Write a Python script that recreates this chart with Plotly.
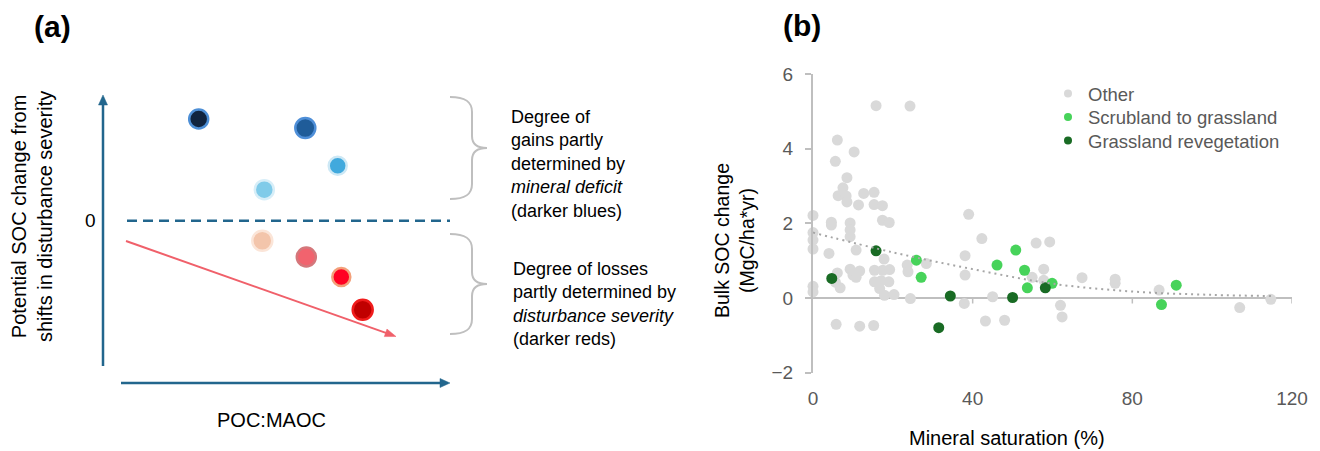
import plotly.graph_objects as go

FONT = "Arial, 'Liberation Sans', sans-serif"

# ---------------- Panel (b) data ----------------
other_x = [15.8, 24.3, 6.1, 10.3, 5.6, 8.5, 7.5, 6.3, 8.3, 8.5, 12.7, 15.3, 11.4, 15.3, 17.4,
           0.0, 4.6, 4.6, 9.3, 9.3, 9.3, 17.4, 19.1, 39.0, 0.0, 0.0, 0.0, 4.0, 10.8, 17.8,
           6.1, 5.6, 6.8, 0.0, 0.0, 9.3, 11.7, 10.0, 10.8, 15.4, 17.5, 19.2, 15.4, 17.1, 19.0,
           16.7, 17.9, 20.3, 24.4, 23.6, 23.8, 28.4, 5.8, 11.7, 15.2, 42.3, 38.1, 38.1,
           55.9, 59.3, 57.8, 54.9, 57.8, 45.0, 37.9, 43.2, 48.0, 62.0, 62.4, 67.4, 75.7, 75.7,
           86.7, 106.9, 114.7]
other_y = [5.15, 5.14, 4.23, 3.91, 3.66, 3.22, 2.95, 2.74, 2.73, 2.57, 2.80, 2.83, 2.49, 2.50, 2.47,
           2.21, 2.03, 1.95, 2.01, 1.82, 1.64, 2.08, 2.02, 2.24, 1.75, 1.55, 1.31, 1.19, 1.28, 1.04,
           0.67, 0.42, 0.27, 0.31, 0.16, 0.77, 0.72, 0.61, 0.55, 0.74, 0.74, 0.76, 0.43, 0.46, 0.43,
           0.25, 0.07, 0.09, -0.02, 0.88, 0.70, 0.92, -0.71, -0.76, -0.74, 1.59, 1.13, 0.61,
           1.47, 1.50, 0.77, 0.55, 0.47, 0.03, -0.15, -0.62, -0.60, -0.20, -0.51, 0.54, 0.50, 0.39,
           0.21, -0.26, -0.04]
scrub_x = [25.9, 27.1, 50.8, 46.1, 53.0, 59.9, 53.7, 91.0, 87.3]
scrub_y = [1.01, 0.55, 1.28, 0.88, 0.74, 0.39, 0.27, 0.34, -0.18]
reveg_x = [15.8, 4.7, 34.4, 50.0, 58.2, 31.5]
reveg_y = [1.26, 0.52, 0.05, 0.01, 0.27, -0.80]
trend_x = [0, 20, 40, 60, 80, 100, 115]
trend_y = [1.75, 1.22, 0.77, 0.38, 0.17, 0.08, 0.05]
x_ticks = [0, 40, 80, 120]
y_ticks = [-2, 0, 2, 4, 6]
series_names = ["Other", "Scrubland to grassland", "Grassland revegetation"]
series_colors = ["#d9d9d9", "#47d35a", "#196b24"]

# ---------------- Panel (a) schematic (pixel-space units) ----------------
a_x = [198.7, 305.3, 337.7, 264.3, 262.3, 306.3, 341.3, 362.7]
a_y = [119.0, 128.0, 165.7, 189.7, 240.7, 257.0, 277.0, 309.7]
a_size = [19, 20, 18, 19, 20, 19, 18, 20]
a_fill = ["#10243f", "#1f5c99", "#41a9dd", "#80cbe9", "#f3c5ab", "#f1636e", "#ff0022", "#c00000"]
a_ring = ["#4d8fd6", "#4f8fd8", "#cde8f5", "#d7eef8", "#fbe5d8", "#d4777b", "#f3a07a", "#f01c1c"]

W, H = 1320, 451
TEAL = "#22668d"
RED = "#f0606a"
GRAY_AX = "#bfbfbf"

fig = go.Figure()

legend_ids = ["legend", "legend2", "legend3"]
legend_rows = [94, 117.5, 141]  # vertical centres of the legend rows (px)

# legend entries (small symbols as in the reference), one legend per row
for name, col, lid in zip(series_names, series_colors, legend_ids):
    fig.add_trace(go.Scatter(x=[None], y=[None], mode="markers", name=name, legend=lid,
                             marker=dict(size=8, color=col), xaxis="x", yaxis="y"))

for xs, ys, name, col in [(other_x, other_y, series_names[0], series_colors[0]),
                          (scrub_x, scrub_y, series_names[1], series_colors[1]),
                          (reveg_x, reveg_y, series_names[2], series_colors[2])]:
    fig.add_trace(go.Scatter(x=xs, y=ys, mode="markers", name=name, showlegend=False,
                             marker=dict(size=11, color=col, opacity=1), cliponaxis=False,
                             xaxis="x", yaxis="y"))

fig.add_trace(go.Scatter(x=trend_x, y=trend_y, mode="lines", showlegend=False,
                         line=dict(color="#a6a6a6", width=2, dash="2px,4px", shape="spline"),
                         xaxis="x", yaxis="y"))

# panel (a) circles
fig.add_trace(go.Scatter(x=a_x, y=a_y, mode="markers", showlegend=False,
                         marker=dict(size=a_size, color=a_fill, opacity=1,
                                     line=dict(color=a_ring, width=2.5)),
                         cliponaxis=False, xaxis="x2", yaxis="y2"))

shapes = []
# x tick marks on the zero line
for t in x_ticks[1:]:
    shapes.append(dict(type="line", xref="x", yref="y", x0=t, x1=t, y0=0, y1=-0.15,
                       line=dict(color=GRAY_AX, width=1.5), layer="below"))


def arrow(x0, y0, x1, y1, color, width, head_len, head_half):
    dx, dy = x1 - x0, y1 - y0
    L = (dx * dx + dy * dy) ** 0.5
    ux, uy = dx / L, dy / L
    bx, by = x1 - ux * head_len, y1 - uy * head_len
    nx, ny = -uy * head_half, ux * head_half
    out = [dict(type="line", xref="x2", yref="y2", x0=x0, y0=y0,
                x1=bx + ux * 1, y1=by + uy * 1, line=dict(color=color, width=width)),
           dict(type="path", xref="x2", yref="y2",
                path=f"M {x1},{y1} L {bx + nx},{by + ny} L {bx - nx},{by - ny} Z",
                fillcolor=color, line=dict(color=color, width=0.5))]
    return out


shapes += arrow(103, 366, 103, 95, TEAL, 2.5, 10, 4.5)
shapes += arrow(121, 383, 450, 383, TEAL, 2.5, 10, 4.5)
shapes += arrow(126, 241, 396, 336.5, RED, 2, 11, 4)
shapes.append(dict(type="line", xref="x2", yref="y2", x0=127, x1=450, y0=220.7, y1=220.7,
                   line=dict(color=TEAL, width=2.5, dash="10px,6px")))


def brace(top, bottom, xl=450, xs=472, xt=487):
    mid = (top + bottom) / 2
    return (f"M {xl},{top} C {xl+16},{top} {xs},{top+5} {xs},{top+15} "
            f"L {xs},{mid-12} C {xs},{mid-3} {xs+6},{mid} {xt},{mid} "
            f"C {xs+6},{mid} {xs},{mid+3} {xs},{mid+12} "
            f"L {xs},{bottom-15} C {xs},{bottom-5} {xl+16},{bottom} {xl},{bottom}")


for top, bottom in [(97, 199), (234, 334)]:
    shapes.append(dict(type="path", xref="x2", yref="y2", path=brace(top, bottom),
                       line=dict(color=GRAY_AX, width=2)))

ann = []


def txt(x, y, text, size, color="#000000", **kw):
    d = dict(xref="x2", yref="y2", x=x, y=y, text=text, showarrow=False,
             font=dict(family=FONT, size=size, color=color))
    d.update(kw)
    ann.append(d)


txt(52, 26, "<b>(a)</b>", 30)
txt(802, 25, "<b>(b)</b>", 30)
txt(32, 217, "Potential SOC change from<br>shifts in disturbance severity", 20, textangle=-90)
txt(90, 220, "0", 19)
txt(271, 420, "POC:MAOC", 20)
txt(509, 164, "Degree of<br>gains partly<br>determined by<br><i>mineral deficit</i><br>(darker blues)",
    18, xanchor="left", align="left")
txt(511, 304, "Degree of losses<br>partly determined by<br><i>disturbance severity</i><br>(darker reds)",
    18, xanchor="left", align="left")
txt(734, 241, "Bulk SOC change<br>(MgC/ha*yr)", 19.5, textangle=-90)
txt(1007, 438, "Mineral saturation (%)", 20)

legend_layout = {}
for lid, yc in zip(legend_ids, legend_rows):
    legend_layout[lid] = dict(x=1048 / W, y=1 - yc / H, xanchor="left", yanchor="middle",
                              font=dict(family=FONT, size=18.5, color="#595959"),
                              bgcolor="rgba(0,0,0,0)", itemsizing="trace")

fig.update_layout(
    width=W, height=H,
    margin=dict(l=0, r=0, t=0, b=0, autoexpand=False),
    paper_bgcolor="white", plot_bgcolor="rgba(0,0,0,0)",
    font=dict(family=FONT),
    showlegend=True,
    xaxis=dict(domain=[813 / W, 1292 / W], range=[0, 120], tickvals=x_ticks,
               showgrid=False, zeroline=False, showline=False, ticks="",
               tickfont=dict(family=FONT, size=19, color="#595959"),
               ticklabelstandoff=12, fixedrange=True, automargin=False),
    yaxis=dict(domain=[1 - 372.5 / H, 1 - 74 / H], range=[-2, 6], tickvals=y_ticks,
               showgrid=False, zeroline=True, zerolinecolor=GRAY_AX, zerolinewidth=2,
               showline=True, linecolor=GRAY_AX, linewidth=2,
               ticks="outside", ticklen=6, tickcolor=GRAY_AX, tickwidth=1.5,
               tickfont=dict(family=FONT, size=19, color="#595959"),
               ticklabelstandoff=8, fixedrange=True, automargin=False),
    xaxis2=dict(domain=[0, 1], range=[0, W], visible=False, fixedrange=True),
    yaxis2=dict(domain=[0, 1], range=[H, 0], visible=False, fixedrange=True),
    shapes=shapes,
    annotations=ann,
    **legend_layout,
)

fig.write_html("out.html")
